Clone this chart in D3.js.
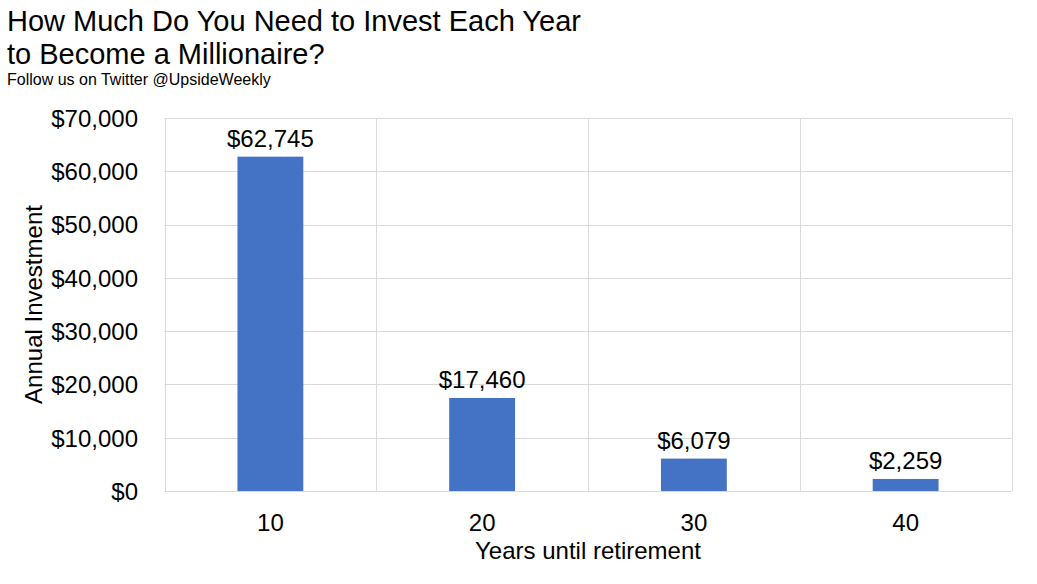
<!DOCTYPE html>
<html><head><meta charset="utf-8">
<script src="https://cdn.jsdelivr.net/npm/d3@7"></script>
<style>body{margin:0;background:#fff}svg{display:block;font-family:"Liberation Sans",Arial,sans-serif}</style>
</head><body><svg id="c" width="1037" height="584"></svg>
<script>
const categories = ["10","20","30","40"];
const values = [62745, 17460, 6079, 2259];
const yTicks = [0,10000,20000,30000,40000,50000,60000,70000];
const titleLines = ["How Much Do You Need to Invest Each Year","to Become a Millionaire?"];
const subtitle = "Follow us on Twitter @UpsideWeekly";
const xTitle = "Years until retirement";
const yTitle = "Annual Investment";

const svg = d3.select("#c");
const L=164.5, R=1011.5, T=118, B=491;
const x = d3.scaleBand().domain(categories).range([L,R]).paddingInner(0.689).paddingOuter(0.3445);
const y = d3.scaleLinear().domain([0,70000]).range([B,T]);
const fmt = v => "$" + d3.format(",")(v);

// horizontal grid
svg.append("g").selectAll("line").data(yTicks).join("line")
  .attr("x1",L).attr("x2",R).attr("y1",d=>Math.round(y(d))+0.5).attr("y2",d=>Math.round(y(d))+0.5)
  .attr("stroke","#d9d9d9").attr("stroke-width",1);
// vertical grid at band boundaries
const step = x.step();
const bounds = categories.map(c=>x(c)+x.bandwidth()/2-step/2).concat([x(categories[3])+x.bandwidth()/2+step/2]);
svg.append("g").selectAll("line").data(bounds).join("line")
  .attr("x1",d=>Math.round(d)+0.5).attr("x2",d=>Math.round(d)+0.5).attr("y1",T).attr("y2",B)
  .attr("stroke","#d9d9d9").attr("stroke-width",1);

// bars
svg.append("g").selectAll("rect").data(values).join("rect")
  .attr("x",(d,i)=>x(categories[i])).attr("width",x.bandwidth())
  .attr("y",d=>y(d)).attr("height",d=>B-y(d)).attr("fill","#4472c4");

// data labels
svg.append("g").selectAll("text").data(values).join("text")
  .attr("x",(d,i)=>x(categories[i])+x.bandwidth()/2).attr("y",d=>y(d)-10)
  .attr("text-anchor","middle").attr("font-size",24).attr("fill","#000").text(fmt);

// y axis labels
const yAxis = d3.axisLeft(y).tickValues(yTicks).tickFormat(fmt).tickSize(0).tickPadding(0);
const yg = svg.append("g").attr("transform",`translate(${138},0)`).call(yAxis);
yg.select(".domain").remove();
yg.selectAll("text").attr("font-size",24).attr("fill","#000").attr("font-family","Liberation Sans, Arial, sans-serif").attr("dy","0.35em");

// x axis labels
const xAxis = d3.axisBottom(x).tickSize(0).tickPadding(0);
const xg = svg.append("g").attr("transform",`translate(0,${B})`).call(xAxis);
xg.select(".domain").remove();
xg.selectAll("text").attr("font-size",24).attr("fill","#000").attr("font-family","Liberation Sans, Arial, sans-serif").attr("dy",null).attr("y",40);

// axis titles
svg.append("text").attr("x",(L+R)/2).attr("y",559).attr("text-anchor","middle").attr("font-size",24).text(xTitle);
svg.append("text").attr("transform",`translate(41.5,${(T+B)/2}) rotate(-90)`).attr("text-anchor","middle").attr("font-size",24).text(yTitle);

// titles
svg.append("g").selectAll("text").data(titleLines).join("text")
  .attr("x",7).attr("y",(d,i)=>31+i*33).attr("font-size",29).text(d=>d);
svg.append("text").attr("x",7).attr("y",85).attr("font-size",16).text(subtitle);
</script></body></html>
